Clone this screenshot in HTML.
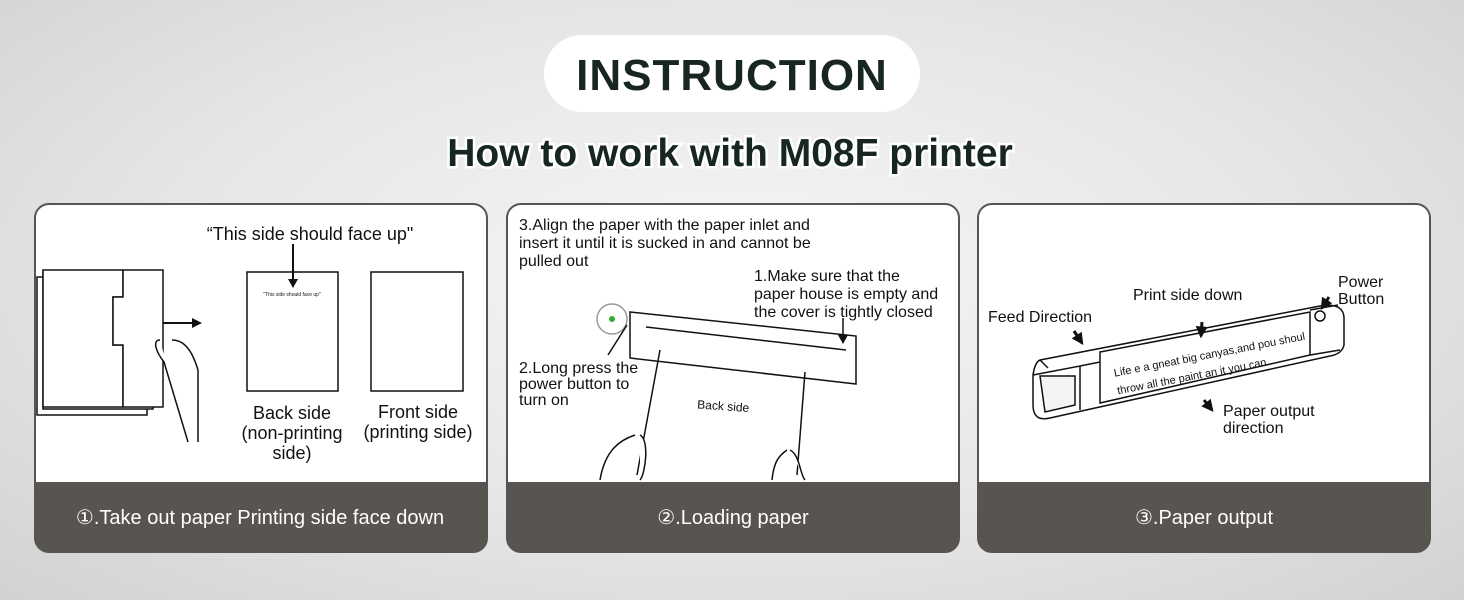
<!DOCTYPE html>
<html><head><meta charset="utf-8"><style>
html,body{margin:0;padding:0;width:1464px;height:600px;overflow:hidden}
body{background:radial-gradient(ellipse at 50% 45%,#f6f6f6 0%,#e6e6e6 55%,#d2d2d2 100%);font-family:"Liberation Sans",sans-serif}
</style></head><body>
<svg width="1464" height="600" viewBox="0 0 1464 600" xmlns="http://www.w3.org/2000/svg" font-family="Liberation Sans, DejaVu Sans, sans-serif">
<defs>
<marker id="ah" viewBox="0 0 10 10" refX="8" refY="5" markerWidth="4" markerHeight="4" orient="auto"><path d="M0 0L10 5L0 10z" fill="#111"/></marker>
</defs>
<rect x="544" y="35" width="376" height="77" rx="38" fill="#fff"/>
<text x="732" y="90" text-anchor="middle" font-size="44" font-weight="bold" fill="#17261f" letter-spacing="1">INSTRUCTION</text>
<text x="730" y="166" text-anchor="middle" font-size="39" font-weight="bold" fill="#17261f" stroke="#fff" stroke-width="5" paint-order="stroke">How to work with M08F printer</text>

<g stroke="#555" stroke-width="2">
<rect x="35" y="204" width="452" height="348" rx="14" fill="#fff"/>
<rect x="507" y="204" width="452" height="348" rx="14" fill="#fff"/>
<rect x="978" y="204" width="452" height="348" rx="14" fill="#fff"/>
</g>
<g fill="#585450">
<path d="M35 482H487V538a14 14 0 0 1-14 14H49a14 14 0 0 1-14-14Z"/>
<path d="M507 482H959V538a14 14 0 0 1-14 14H521a14 14 0 0 1-14-14Z"/>
<path d="M978 482H1430V538a14 14 0 0 1-14 14H992a14 14 0 0 1-14-14Z"/>
</g>
<g fill="#fff" font-size="20" text-anchor="middle">
<text x="260" y="524">①.Take out paper Printing side face down</text>
<text x="733" y="524">②.Loading paper</text>
<text x="1204" y="524">③.Paper output</text>
</g>

<!-- panel 1 -->
<g stroke="#111" stroke-width="1.5" fill="#fff">
<rect x="37" y="277" width="110" height="138"/>
<rect x="43" y="271" width="110" height="138"/>
<path d="M43 270H123V297H113V345H123V407H43Z"/>
<path d="M123 270H163V407H123V345H113V297H123Z"/>
<path d="M160 340c-8 0-4 12 4 22l12 40 12 40M172 340c12 0 20 10 26 30v72"/>
<rect x="247" y="272" width="91" height="119"/>
<rect x="371" y="272" width="92" height="119"/>
</g>
<path d="M163 323H195" stroke="#111" stroke-width="2"/><path d="M202 323l-10-5v10z" fill="#111"/>
<path d="M293 244V280" stroke="#111" stroke-width="2"/><path d="M293 288l-5-9h10z" fill="#111"/>
<text x="292" y="296" font-size="5" text-anchor="middle" fill="#111">"This side should face up"</text>
<g font-size="18" fill="#111" text-anchor="middle">
<text x="310" y="240">“This side should face up"</text>
<text x="292" y="419">Back side</text>
<text x="292" y="439">(non-printing</text>
<text x="292" y="459">side)</text>
<text x="418" y="418">Front side</text>
<text x="418" y="438">(printing side)</text>
</g>

<!-- panel 2 -->
<g font-size="16" fill="#111">
<text x="519" y="230">3.Align the paper with the paper inlet and</text>
<text x="519" y="248">insert it until it is sucked in and cannot be</text>
<text x="519" y="266">pulled out</text>
<text x="754" y="281">1.Make sure that the</text>
<text x="754" y="299">paper house is empty and</text>
<text x="754" y="317">the cover is tightly closed</text>
<text x="519" y="373">2.Long press the</text>
<text x="519" y="389">power button to</text>
<text x="519" y="405">turn on</text>
</g>
<g stroke="#111" stroke-width="1.5" fill="#fff">
<path d="M630 312L856 336V384L630 358Z"/>
<path d="M646 327L846 350"/>
<path d="M660 350L637 475M805 372L797 475"/>
<circle cx="612" cy="319" r="15" fill="#fff" stroke="#999"/>
<path d="M600 480c5-30 20-40 35-45M640 435c10 5 5 40 0 45M772 480c2-20 8-25 15-30M790 450c10 5 10 25 15 30"/>
</g>
<circle cx="612" cy="319" r="3" fill="#3a3"/>
<path d="M608 355L627 325" stroke="#111" stroke-width="1.5"/>
<path d="M843 318V338" stroke="#111" stroke-width="1.5"/><path d="M843 344l-5-9h10z" fill="#111"/>
<text x="697" y="410" font-size="12" fill="#111" transform="rotate(4 720 410)">Back side</text>

<!-- panel 3 -->
<g font-size="16" fill="#111">
<text x="988" y="322">Feed Direction</text>
<text x="1133" y="300">Print side down</text>
<text x="1338" y="287">Power</text>
<text x="1338" y="304">Button</text>
<text x="1223" y="416">Paper output</text>
<text x="1223" y="433">direction</text>
</g>
<g stroke="#111" stroke-width="1.5" fill="#fff">
<path d="M1040 360L1320 306Q1345 302 1344 320V345Q1342 354 1330 356L1050 418Q1033 422 1033 405V375Q1035 362 1040 360Z"/>
<path d="M1033 375L1080 366V410M1080 366L1100 362M1040 360L1048 368"/>
<path d="M1040 376H1075V405L1045 412Z" fill="#f4f4f4"/>
<path d="M1100 352L1310 312V355L1100 403Z"/>
<path d="M1310 310L1338 305M1310 355L1340 350"/>
<circle cx="1320" cy="316" r="5"/>
</g>
<g font-size="11" fill="#111" transform="rotate(-11 1200 355)">
<text x="1112" y="360">Life e a gneat big canyas,and pou shoul</text>
<text x="1112" y="378">throw all the paint an it you can.</text>
</g>
<g stroke="#111" stroke-width="3" marker-end="url(#ah)">
<path d="M1074 331L1082 343"/>
<path d="M1202 322L1201 336"/>
<path d="M1329 297L1322 308"/>
<path d="M1204 400L1212 410"/>
</g>
</svg>
</body></html>
